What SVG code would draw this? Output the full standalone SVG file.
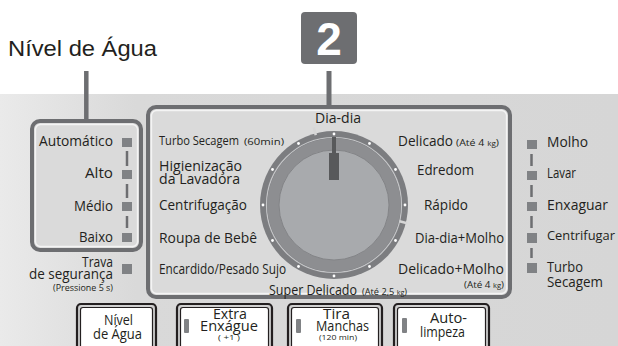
<svg xmlns="http://www.w3.org/2000/svg" width="618" height="346" viewBox="0 0 618 346">
<defs>
<linearGradient id="pg" x1="0" y1="0" x2="1" y2="0">
<stop offset="0" stop-color="#eaeaea"/>
<stop offset="0.22" stop-color="#d9d9d9"/>
<stop offset="1" stop-color="#d6d6d6"/>
</linearGradient>
<style>
.t{font-family:"Open Sans","DejaVu Sans",sans-serif;fill:#231f20}
.m{font-size:14px}
.b{font-size:14px}
.sm{font-size:8.5px}
.xs{font-size:6.5px}
.box{stroke:#6d6e71;stroke-width:4;fill:#dadada}
.inl{fill:none;stroke:#f4f4f4;stroke-width:1.3}
.sq{fill:#808285}
.vl{stroke:#6d6e71;stroke-width:2.5}
.bo{fill:#cfcfcf;stroke:#231f20;stroke-width:2.2}
.bi{fill:#ffffff;stroke:#231f20;stroke-width:1.2}
.dot{fill:#ffffff}
</style>
</defs>
<rect x="0" y="0" width="618" height="346" fill="#ffffff"/>
<rect x="0" y="94" width="618" height="252" fill="url(#pg)"/>

<text x="8" y="56" font-family="Liberation Sans, Arial, sans-serif" font-size="22" fill="#231f20" textLength="149" lengthAdjust="spacingAndGlyphs">Nível de Água</text>
<g id="badge2">
<rect x="301" y="12" width="56" height="52" rx="4" fill="#6d6e71"/>
<text x="329" y="55" font-family="Liberation Sans, Arial, sans-serif" font-weight="bold" font-size="46" fill="#ffffff" text-anchor="middle">2</text>
</g>

<g id="connectors">
<line x1="86.3" y1="71" x2="86.3" y2="120" stroke="#6d6e71" stroke-width="4.5"/>
<line x1="329" y1="71" x2="329" y2="106" stroke="#6d6e71" stroke-width="5"/>
</g>

<g id="nivel-box">
<rect x="32" y="121" width="109" height="129" rx="8" class="box"/>
<rect x="35.5" y="124.5" width="102" height="122" rx="5" class="inl"/>
<text class="t m" x="39" y="146" textLength="74" lengthAdjust="spacingAndGlyphs">Automático</text>
<text class="t m" x="85" y="178" textLength="28" lengthAdjust="spacingAndGlyphs">Alto</text>
<text class="t m" x="74" y="211" textLength="39" lengthAdjust="spacingAndGlyphs">Médio</text>
<text class="t m" x="79" y="242" textLength="34" lengthAdjust="spacingAndGlyphs">Baixo</text>
<rect class="sq" x="122" y="138" width="10" height="9"/>
<rect class="sq" x="122" y="170" width="10" height="9"/>
<rect class="sq" x="122" y="202" width="10" height="9"/>
<rect class="sq" x="122" y="233" width="10" height="9"/>
<line class="vl" x1="127" y1="151" x2="127" y2="166"/>
<line class="vl" x1="127" y1="184" x2="127" y2="198"/>
<line class="vl" x1="127" y1="216" x2="127" y2="228"/>
</g>

<g id="trava">
<text class="t m" x="82" y="267" textLength="31" lengthAdjust="spacingAndGlyphs">Trava</text>
<text class="t m" x="29" y="279" textLength="84" lengthAdjust="spacingAndGlyphs">de  segurança</text>
<text class="t sm" x="53" y="291" textLength="60" lengthAdjust="spacingAndGlyphs">(Pressione 5 s)</text>
<rect class="sq" x="122" y="264" width="10" height="10"/>
</g>

<g id="programas-box">
<rect x="148" y="107" width="362" height="190" rx="8" class="box"/>
<rect x="151.5" y="110.5" width="355" height="183" rx="5" class="inl"/>
</g>

<g id="dial">
<circle cx="334" cy="205" r="74" fill="#7c7d80"/>
<circle cx="334" cy="205" r="67.5" fill="none" stroke="#c4c5c7" stroke-width="1.2"/>
<circle cx="334" cy="205" r="66.8" fill="#8d8e91"/>
<circle cx="334" cy="205" r="55" fill="#a8aaad" stroke="#838487" stroke-width="1"/>
<line x1="315.8" y1="135.1" x2="313.8" y2="127.4" stroke="#d6d6d6" stroke-width="2.5"/>
<line x1="399.5" y1="221.3" x2="407.2" y2="223.2" stroke="#d6d6d6" stroke-width="2.5"/>
<g class="dot">
<circle cx="334" cy="134" r="1.4"/>
<circle cx="369.5" cy="143.5" r="1.4"/>
<circle cx="395.5" cy="169.5" r="1.4"/>
<circle cx="405" cy="205" r="1.4"/>
<circle cx="395.5" cy="240.5" r="1.4"/>
<circle cx="369.5" cy="266.5" r="1.4"/>
<circle cx="334" cy="276" r="1.4"/>
<circle cx="298.5" cy="266.5" r="1.4"/>
<circle cx="272.5" cy="240.5" r="1.4"/>
<circle cx="263" cy="205" r="1.4"/>
<circle cx="272.5" cy="169.5" r="1.4"/>
<circle cx="298.5" cy="143.5" r="1.4"/>
</g>
<rect x="332" y="137" width="4" height="18" fill="#58595b"/>
<rect x="329" y="153" width="10" height="27" fill="#58595b"/>
</g>

<g id="programas-labels">
<text class="t m" x="315" y="123" textLength="46" lengthAdjust="spacingAndGlyphs">Dia-dia</text>
<text class="t" font-size="12.5" x="159" y="145" textLength="80" lengthAdjust="spacingAndGlyphs">Turbo Secagem</text>
<text class="t sm" x="244" y="145" textLength="40" lengthAdjust="spacingAndGlyphs">(60min)</text>
<text class="t m" x="159" y="171" textLength="83" lengthAdjust="spacingAndGlyphs">Higienização</text>
<text class="t m" x="159" y="184" textLength="81" lengthAdjust="spacingAndGlyphs">da  Lavadora</text>
<text class="t m" x="159" y="210" textLength="88" lengthAdjust="spacingAndGlyphs">Centrifugação</text>
<text class="t m" x="159" y="243" textLength="98" lengthAdjust="spacingAndGlyphs">Roupa de Bebê</text>
<text class="t m" x="159" y="274" textLength="127" lengthAdjust="spacingAndGlyphs">Encardido/Pesado Sujo</text>
<text class="t m" x="269" y="295" textLength="88" lengthAdjust="spacingAndGlyphs">Super Delicado</text>
<text class="t sm" x="362" y="295" textLength="45" lengthAdjust="spacingAndGlyphs">(Até 2,5 <tspan class="xs">kg</tspan>)</text>
<text class="t m" x="398" y="146" textLength="55" lengthAdjust="spacingAndGlyphs">Delicado</text>
<text class="t sm" x="456" y="146" textLength="43" lengthAdjust="spacingAndGlyphs">(Até 4 <tspan class="xs">kg</tspan>)</text>
<text class="t m" x="417" y="175" textLength="57" lengthAdjust="spacingAndGlyphs">Edredom</text>
<text class="t m" x="424" y="210" textLength="44" lengthAdjust="spacingAndGlyphs">Rápido</text>
<text class="t m" x="415" y="243" textLength="89" lengthAdjust="spacingAndGlyphs">Dia-dia+Molho</text>
<text class="t m" x="398" y="274" textLength="106" lengthAdjust="spacingAndGlyphs">Delicado+Molho</text>
<text class="t sm" x="464" y="288" textLength="40" lengthAdjust="spacingAndGlyphs">(Até 4 <tspan class="xs">kg</tspan>)</text>
</g>

<g id="etapas">
<rect class="sq" x="527" y="140" width="10" height="9"/>
<rect class="sq" x="527" y="171" width="10" height="9"/>
<rect class="sq" x="527" y="202" width="10" height="9"/>
<rect class="sq" x="527" y="233" width="10" height="10"/>
<rect class="sq" x="527" y="263" width="10" height="10"/>
<line class="vl" x1="531.5" y1="154" x2="531.5" y2="166"/>
<line class="vl" x1="531.5" y1="185" x2="531.5" y2="197"/>
<line class="vl" x1="531.5" y1="216" x2="531.5" y2="228"/>
<line class="vl" x1="531.5" y1="248" x2="531.5" y2="258"/>
<text class="t m" x="547" y="147" textLength="41" lengthAdjust="spacingAndGlyphs">Molho</text>
<text class="t m" x="547" y="178" textLength="29" lengthAdjust="spacingAndGlyphs">Lavar</text>
<text class="t m" x="547" y="210" textLength="61" lengthAdjust="spacingAndGlyphs">Enxaguar</text>
<text class="t" font-size="13" x="547" y="240" textLength="68" lengthAdjust="spacingAndGlyphs">Centrifugar</text>
<text class="t m" x="547" y="272" textLength="36" lengthAdjust="spacingAndGlyphs">Turbo</text>
<text class="t m" x="547" y="287" textLength="56" lengthAdjust="spacingAndGlyphs">Secagem</text>
</g>

<g id="btn-nivel">
<rect class="bo" x="77" y="304" width="79" height="60" rx="4"/>
<rect class="bi" x="80.5" y="307.5" width="72" height="55" rx="2.5"/>
<text class="t b" x="104" y="325" textLength="29" lengthAdjust="spacingAndGlyphs">Nível</text>
<text class="t b" x="93" y="339" textLength="49" lengthAdjust="spacingAndGlyphs">de Água</text>
</g>
<g id="btn-extra">
<rect class="bo" x="177" y="304" width="95" height="60" rx="4"/>
<rect class="bi" x="180.5" y="307.5" width="88" height="55" rx="2.5"/>
<rect class="sq" x="184" y="319" width="5" height="14" rx="1"/>
<text class="t b" x="213" y="319" textLength="34" lengthAdjust="spacingAndGlyphs">Extra</text>
<text class="t b" x="200" y="331" textLength="58" lengthAdjust="spacingAndGlyphs">Enxágue</text>
<text class="t xs" x="218" y="340" textLength="22" lengthAdjust="spacingAndGlyphs">( +1 )</text>
</g>
<g id="btn-tira">
<rect class="bo" x="288" y="304" width="94" height="60" rx="4"/>
<rect class="bi" x="291.5" y="307.5" width="87" height="55" rx="2.5"/>
<rect class="sq" x="296" y="319" width="5" height="14" rx="1"/>
<text class="t b" x="323" y="319" textLength="27" lengthAdjust="spacingAndGlyphs">Tira</text>
<text class="t b" x="316" y="331" textLength="53" lengthAdjust="spacingAndGlyphs">Manchas</text>
<text class="t xs" x="319" y="340" textLength="38" lengthAdjust="spacingAndGlyphs">(120 min)</text>
</g>
<g id="btn-auto">
<rect class="bo" x="394" y="304" width="95" height="60" rx="4"/>
<rect class="bi" x="397.5" y="307.5" width="88" height="55" rx="2.5"/>
<rect class="sq" x="402" y="318" width="5" height="15" rx="1"/>
<text class="t b" x="430" y="323" textLength="37" lengthAdjust="spacingAndGlyphs">Auto-</text>
<text class="t b" x="420" y="337" textLength="45" lengthAdjust="spacingAndGlyphs">limpeza</text>
</g>
</svg>
